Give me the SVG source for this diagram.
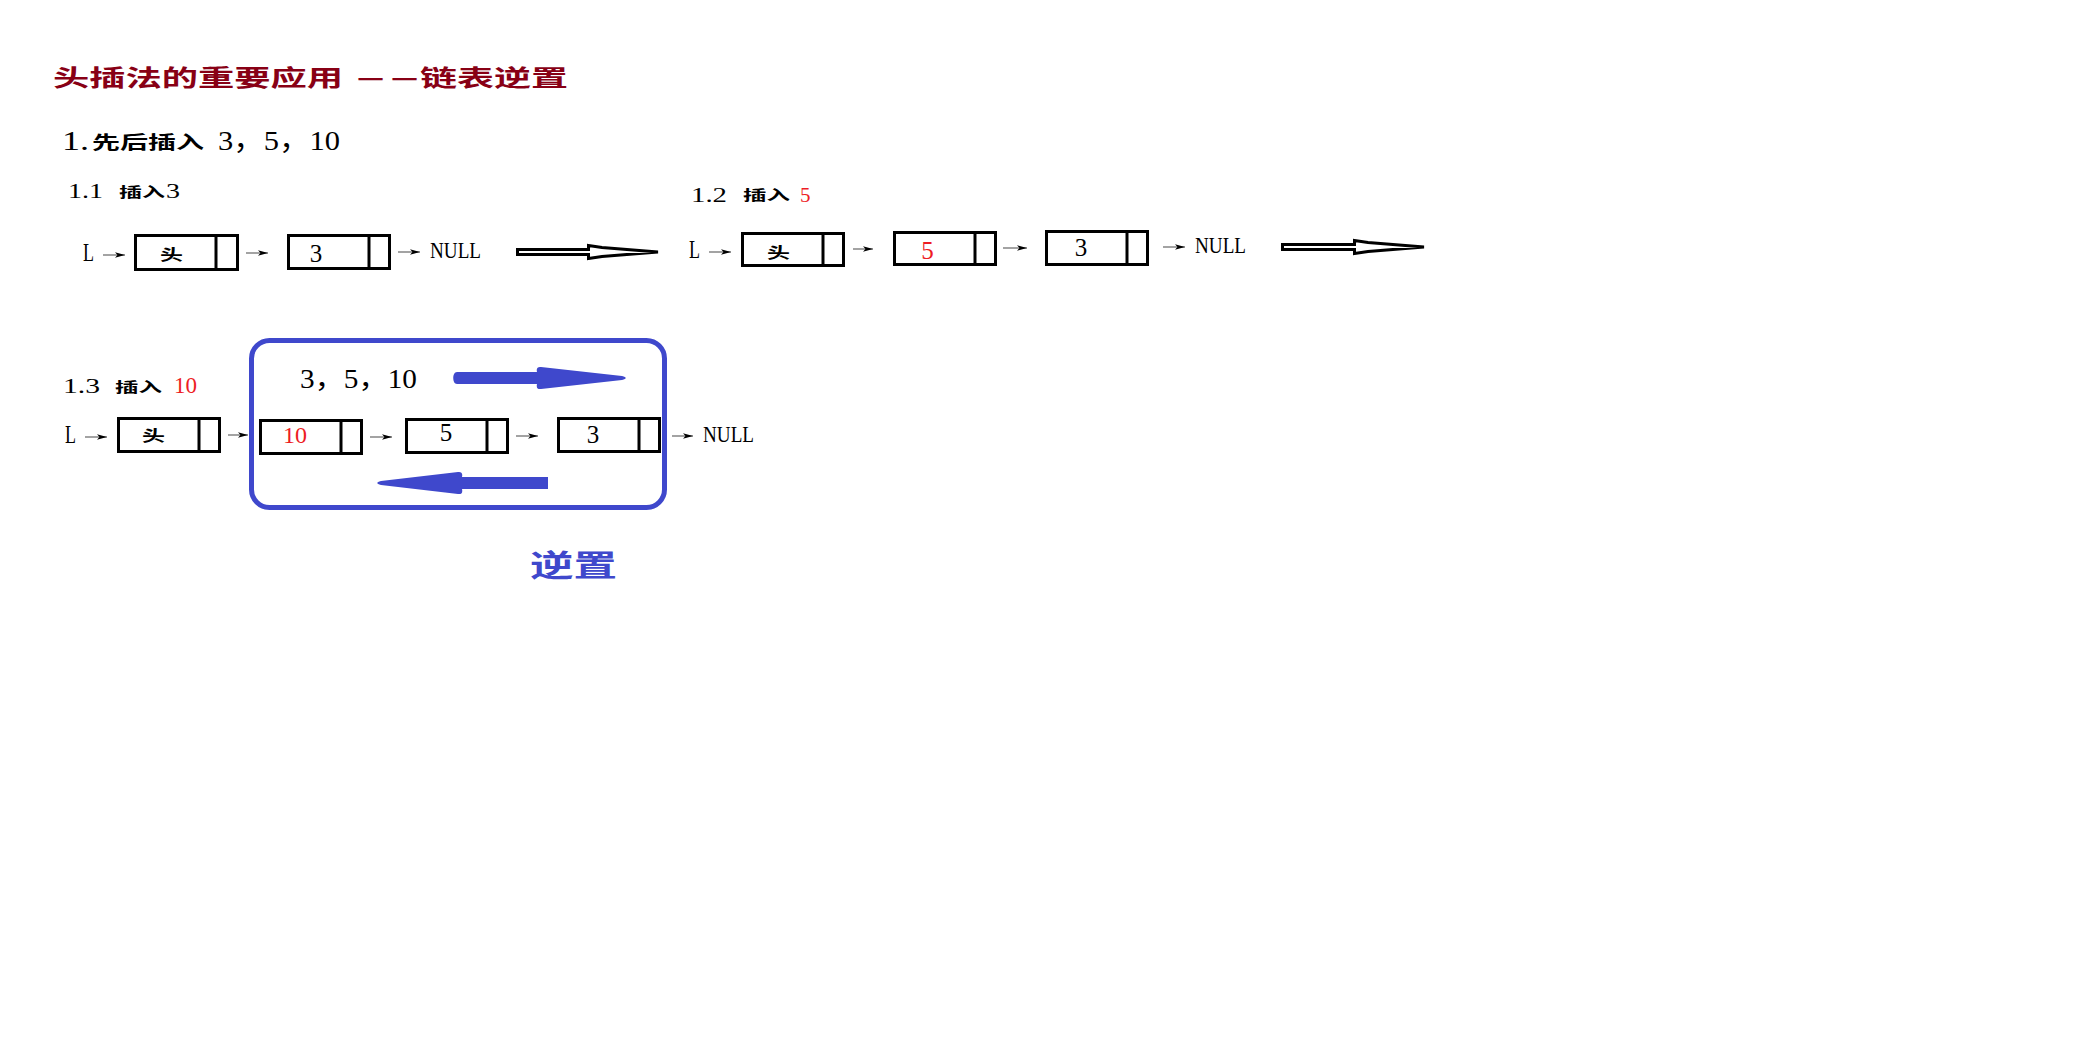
<svg xmlns="http://www.w3.org/2000/svg" width="2085" height="1049" viewBox="0 0 2085 1049">
<style>
.ser{font-family:"Liberation Serif","Noto Sans CJK SC",serif;fill:#000}
.cjk{font-family:"Noto Sans CJK SC","Noto Sans CJK TC",sans-serif;font-weight:700;dominant-baseline:central}
.red{fill:#ed1c24}
.box{fill:#fff;stroke:#000;stroke-width:3}
.div{stroke:#000;stroke-width:3}
.lnk{stroke:#a3a3a3;stroke-width:2;fill:none;marker-end:url(#ah)}
.hol{fill:#fff;stroke:#000;stroke-width:3;stroke-linejoin:miter}
.blue{fill:#3f48cc}
</style>
<defs>
<marker id="ah" markerUnits="userSpaceOnUse" viewBox="0 0 10 6" markerWidth="10" markerHeight="6" refX="10" refY="3" orient="auto">
<path d="M0,0.3 L10,3 L0,5.7 L2.5,3 Z" fill="#000"/>
</marker>
</defs>
<rect width="2085" height="1049" fill="#fff"/>

<g id="title">
<text class="cjk" x="53" y="76" font-size="23" fill="#880015" textLength="290" lengthAdjust="spacingAndGlyphs">头插法的重要应用</text>
<text class="cjk" x="357" y="76" font-size="23" fill="#880015" textLength="61" lengthAdjust="spacingAndGlyphs">— —</text>
<text class="cjk" x="420" y="76" font-size="23" fill="#880015" textLength="148" lengthAdjust="spacingAndGlyphs">链表逆置</text>
</g>

<g id="heading1">
<text class="ser" x="62" y="150" font-size="28" textLength="27" lengthAdjust="spacingAndGlyphs">1.</text>
<text class="cjk" x="92" y="141" font-size="18" fill="#000" textLength="112" lengthAdjust="spacingAndGlyphs">先后插入</text>
<text class="ser" x="218" y="150" font-size="28" textLength="122" lengthAdjust="spacingAndGlyphs">3，5，10</text>
</g>

<g id="label11">
<text class="ser" x="68" y="198" font-size="20" textLength="35" lengthAdjust="spacingAndGlyphs">1.1</text>
<text class="cjk" x="119" y="191" font-size="14" fill="#000" textLength="46" lengthAdjust="spacingAndGlyphs">插入</text>
<text class="ser" x="166" y="198" font-size="20" textLength="14" lengthAdjust="spacingAndGlyphs">3</text>
</g>
<g id="label12">
<text class="ser" x="691" y="202" font-size="20" textLength="36" lengthAdjust="spacingAndGlyphs">1.2</text>
<text class="cjk" x="743" y="194" font-size="14" fill="#000" textLength="47" lengthAdjust="spacingAndGlyphs">插入</text>
<text class="ser red" x="800" y="202" font-size="21">5</text>
</g>
<g id="label13">
<text class="ser" x="63" y="393" font-size="20" textLength="37" lengthAdjust="spacingAndGlyphs">1.3</text>
<text class="cjk" x="115" y="386" font-size="14" fill="#000" textLength="47" lengthAdjust="spacingAndGlyphs">插入</text>
<text class="ser red" x="174" y="393" font-size="23" textLength="23" lengthAdjust="spacingAndGlyphs">10</text>
</g>

<!-- row 1.1 -->
<g id="L11"><text class="ser" x="83" y="261" font-size="25" textLength="11" lengthAdjust="spacingAndGlyphs">L</text></g>
<g id="head11">
<rect class="box" x="135.5" y="235.5" width="102" height="34"/>
<line class="div" x1="216" y1="235.5" x2="216" y2="269.5"/>
<text class="cjk" x="160" y="253" font-size="15" fill="#000" textLength="23" lengthAdjust="spacingAndGlyphs">头</text>
</g>
<g id="n11_3">
<rect class="box" x="288.5" y="235.5" width="101" height="33"/>
<line class="div" x1="369" y1="235.5" x2="369" y2="268.5"/>
<text class="ser" x="316" y="262" font-size="25" text-anchor="middle">3</text>
</g>
<g id="null11"><text class="ser" x="430" y="258" font-size="24" textLength="51" lengthAdjust="spacingAndGlyphs">NULL</text></g>

<!-- row 1.2 -->
<g id="L12"><text class="ser" x="689" y="258" font-size="25" textLength="11" lengthAdjust="spacingAndGlyphs">L</text></g>
<g id="head12">
<rect class="box" x="742.5" y="233.5" width="101" height="32"/>
<line class="div" x1="823" y1="233.5" x2="823" y2="265.5"/>
<text class="cjk" x="767" y="251" font-size="15" fill="#000" textLength="23" lengthAdjust="spacingAndGlyphs">头</text>
</g>
<g id="n12_5">
<rect class="box" x="894.5" y="232.5" width="101" height="32"/>
<line class="div" x1="975" y1="232.5" x2="975" y2="264.5"/>
<text class="ser red" x="927.5" y="259" font-size="25" text-anchor="middle">5</text>
</g>
<g id="n12_3">
<rect class="box" x="1046.5" y="231.5" width="101" height="33"/>
<line class="div" x1="1127" y1="231.5" x2="1127" y2="264.5"/>
<text class="ser" x="1081" y="256" font-size="25" text-anchor="middle">3</text>
</g>
<g id="null12"><text class="ser" x="1195" y="253" font-size="24" textLength="51" lengthAdjust="spacingAndGlyphs">NULL</text></g>

<!-- row 1.3 -->
<g id="L13"><text class="ser" x="65" y="443" font-size="25" textLength="11" lengthAdjust="spacingAndGlyphs">L</text></g>
<g id="head13">
<rect class="box" x="118.5" y="418.5" width="101" height="33"/>
<line class="div" x1="199" y1="418.5" x2="199" y2="451.5"/>
<text class="cjk" x="142" y="434" font-size="15" fill="#000" textLength="23" lengthAdjust="spacingAndGlyphs">头</text>
</g>
<g id="reverseBox">
<rect x="251.5" y="340.5" width="413" height="167" rx="18" fill="none" stroke="#3f48cc" stroke-width="5"/>
<text class="ser" x="300" y="388" font-size="27" textLength="117" lengthAdjust="spacingAndGlyphs">3，5，10</text>
<path class="blue" d="M457,372 L537,372 C536,368 538,366.5 541,367 L622,376 C627,377 627,379 622,380 L541,389 C538,389.5 536,388 537,384 L457,384 C452,384 452,372 457,372 Z"/>
<path class="blue" d="M548,477 L462,477 C463,473 461,471.5 458,472 L381,481 C376,482 376,484 381,485 L458,494 C461,494.5 463,493 462,489 L548,489 Z"/>
</g>
<g id="n13_10">
<rect class="box" x="260.5" y="420.5" width="101" height="33"/>
<line class="div" x1="341" y1="420.5" x2="341" y2="453.5"/>
<text class="ser red" x="283" y="443" font-size="23" textLength="24" lengthAdjust="spacingAndGlyphs">10</text>
</g>
<g id="n13_5">
<rect class="box" x="406.5" y="419.5" width="101" height="33"/>
<line class="div" x1="487" y1="419.5" x2="487" y2="452.5"/>
<text class="ser" x="446" y="441" font-size="25" text-anchor="middle">5</text>
</g>
<g id="n13_3">
<rect class="box" x="558.5" y="418.5" width="101" height="33"/>
<line class="div" x1="639" y1="418.5" x2="639" y2="451.5"/>
<text class="ser" x="593" y="443" font-size="25" text-anchor="middle">3</text>
</g>
<g id="null13"><text class="ser" x="703" y="442" font-size="24" textLength="51" lengthAdjust="spacingAndGlyphs">NULL</text></g>

<g id="reverseLabel">
<text class="cjk" x="530" y="563" font-size="30" fill="#3f48cc" textLength="87" lengthAdjust="spacingAndGlyphs">逆置</text>
</g>

<g id="connectors">
<line class="lnk" x1="103" y1="255" x2="125" y2="255"/>
<line class="lnk" x1="246" y1="253" x2="268" y2="253"/>
<line class="lnk" x1="398" y1="252" x2="420" y2="252"/>
<line class="lnk" x1="709" y1="252" x2="731" y2="252"/>
<line class="lnk" x1="853" y1="249" x2="873" y2="249"/>
<line class="lnk" x1="1003" y1="248" x2="1027" y2="248"/>
<line class="lnk" x1="1163" y1="247" x2="1185" y2="247"/>
<line class="lnk" x1="85" y1="437" x2="107" y2="437"/>
<line class="lnk" x1="228" y1="435" x2="248" y2="435"/>
<line class="lnk" x1="370" y1="437" x2="392" y2="437"/>
<line class="lnk" x1="516" y1="436" x2="538" y2="436"/>
<line class="lnk" x1="672" y1="436" x2="693" y2="436"/>
<polygon class="hol" points="517.5,249.5 588.5,249.5 588.5,245.5 602,247.5 658,252 602,256.5 588.5,258.5 588.5,254.5 517.5,254.5"/>
<polygon class="hol" points="1282.5,244.5 1354.5,244.5 1354.5,240.5 1368,242.5 1424,247 1368,251.5 1354.5,253.5 1354.5,249.5 1282.5,249.5"/>
</g>
</svg>
